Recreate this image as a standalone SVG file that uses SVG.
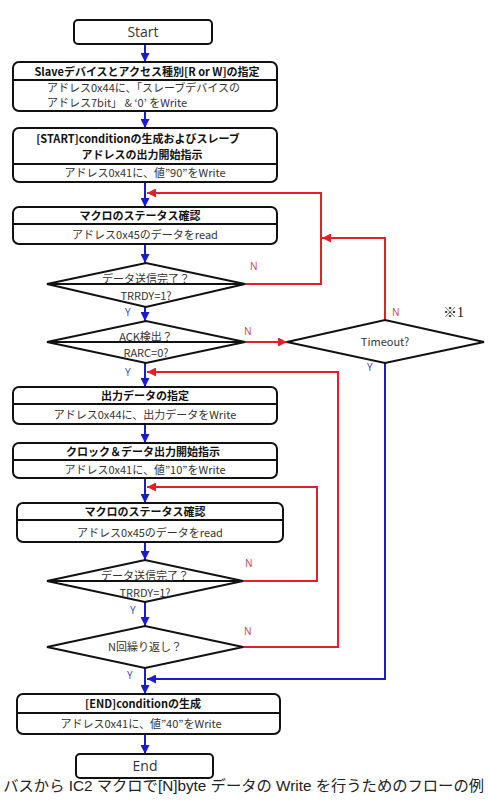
<svg xmlns="http://www.w3.org/2000/svg" width="488" height="806" viewBox="0 0 488 806">
<style>
.box{fill:#fff;stroke:#111;stroke-width:2}
.div{stroke:#111;stroke-width:2}
.dia{fill:#fff;stroke:#111;stroke-width:2}
.t{font-family:"Noto Sans CJK JP","Noto Sans",sans-serif;font-size:11px;font-weight:bold;fill:#111;text-anchor:middle}
.b{font-family:"Noto Sans CJK JP","Noto Sans",sans-serif;font-size:11px;fill:#333;text-anchor:middle}
.bl{font-family:"Noto Sans CJK JP","Noto Sans",sans-serif;font-size:11px;fill:#333}
.term{font-family:"Open Sans","Noto Sans",sans-serif;font-size:14px;fill:#333;text-anchor:middle}
.blue{fill:none;stroke:#1a1ad0;stroke-width:2}
.red{fill:none;stroke:#e3202a;stroke-width:2}
.n{font-family:"Open Sans","Liberation Sans",sans-serif;font-size:10px;fill:#d0405a}
.y{font-family:"Open Sans","Liberation Sans",sans-serif;font-size:10px;fill:#3a3aa0}
</style>
<defs>
<marker id="ab" viewBox="0 0 10 10" refX="10" refY="5" markerWidth="9" markerHeight="9" markerUnits="userSpaceOnUse" orient="auto"><path d="M0,0 L10,5 L0,10 z" fill="#1a1ad0"/></marker>
<marker id="ar" viewBox="0 0 10 10" refX="10" refY="5" markerWidth="9" markerHeight="9" markerUnits="userSpaceOnUse" orient="auto"><path d="M0,0 L10,5 L0,10 z" fill="#e3202a"/></marker>
</defs>
<rect width="488" height="806" fill="#fff"/>

<g id="connectors">
<path class="blue" d="M145,44 V62" marker-end="url(#ab)"/>
<path class="blue" d="M145,111 V128" marker-end="url(#ab)"/>
<path class="blue" d="M145,182 V207" marker-end="url(#ab)"/>
<path class="blue" d="M145,244 V263" marker-end="url(#ab)"/>
<path class="blue" d="M145,307 V321" marker-end="url(#ab)"/>
<path class="blue" d="M145,363 V387" marker-end="url(#ab)"/>
<path class="blue" d="M145,424 V443" marker-end="url(#ab)"/>
<path class="blue" d="M145,478 V503" marker-end="url(#ab)"/>
<path class="blue" d="M145,542 V560" marker-end="url(#ab)"/>
<path class="blue" d="M145,602 V626" marker-end="url(#ab)"/>
<path class="blue" d="M145,668 V694" marker-end="url(#ab)"/>
<path class="blue" d="M145,734 V754" marker-end="url(#ab)"/>
<path class="red" d="M245,284 H321 V193 H147" marker-end="url(#ar)"/>
<path class="red" d="M385,320 V238 H322" marker-end="url(#ar)"/>
<path class="red" d="M245,342 H287" marker-end="url(#ar)"/>
<path class="red" d="M243,647 H338 V372 H147" marker-end="url(#ar)"/>
<path class="red" d="M243,581 H317 V487 H147" marker-end="url(#ar)"/>
<path class="blue" d="M385,363 V679 H147" marker-end="url(#ab)"/>
<text class="n" x="250" y="270">N</text>
<text class="n" x="392" y="316">N</text>
<text class="n" x="244" y="335">N</text>
<text class="n" x="245" y="567">N</text>
<text class="n" x="244" y="635">N</text>
<text class="y" x="125" y="316">Y</text>
<text class="y" x="367" y="371">Y</text>
<text class="y" x="125" y="376">Y</text>
<text class="y" x="130" y="614">Y</text>
<text class="y" x="127" y="679">Y</text>
<text x="443" y="317" font-family="'Liberation Serif','Noto Sans CJK JP',serif" font-size="14" fill="#111">※1</text>
</g>

<g id="start">
<rect class="box" x="74" y="20" width="138" height="24" rx="4"/>
<text class="term" x="143" y="37">Start</text>
</g>

<g id="slave-spec">
<rect class="box" x="13" y="62" width="264" height="49" rx="6"/>
<line class="div" x1="14" y1="80" x2="276" y2="80"/>
<text class="t" x="147" y="76">Slaveデバイスとアクセス種別[R or W]の指定</text>
<text class="bl" x="47" y="92">アドレス0x44に、「スレーブデバイスの</text>
<text class="bl" x="47" y="107">アドレス7bit」 &amp; ‘0’ をWrite</text>
</g>

<g id="start-cond">
<rect class="box" x="13" y="128" width="264" height="54" rx="6"/>
<line class="div" x1="14" y1="164" x2="276" y2="164"/>
<text class="t" x="138" y="143">[START]conditionの生成およびスレーブ</text>
<text class="t" x="142" y="159">アドレスの出力開始指示</text>
<text class="b" x="145" y="177">アドレス0x41に、値”90”をWrite</text>
</g>

<g id="status1">
<rect class="box" x="13" y="207" width="264" height="37" rx="6"/>
<line class="div" x1="14" y1="224" x2="276" y2="224"/>
<text class="t" x="140" y="220">マクロのステータス確認</text>
<text class="b" x="145" y="239">アドレス0x45のデータをread</text>
</g>

<g id="tx-done1">
<polygon class="dia" points="47,284 146,263 245,284 146,307"/>
<line class="div" x1="47" y1="284" x2="245" y2="284"/>
<text class="b" x="146" y="283">データ送信完了？</text>
<text class="b" x="146" y="300">TRRDY=1?</text>
</g>

<g id="ack">
<polygon class="dia" points="47,342 146,321 245,342 146,363"/>
<line class="div" x1="47" y1="342" x2="245" y2="342"/>
<text class="b" x="146" y="341">ACK検出？</text>
<text class="b" x="146" y="357">RARC=0?</text>
</g>

<g id="timeout">
<polygon class="dia" points="287,342 385,320 484,342 385,363"/>
<text class="b" x="385" y="346">Timeout?</text>
</g>

<g id="out-data">
<rect class="box" x="13" y="387" width="264" height="37" rx="6"/>
<line class="div" x1="14" y1="404" x2="276" y2="404"/>
<text class="t" x="145" y="400">出力データの指定</text>
<text class="b" x="145" y="419">アドレス0x44に、出力データをWrite</text>
</g>

<g id="clock">
<rect class="box" x="13" y="443" width="264" height="35" rx="6"/>
<line class="div" x1="14" y1="460" x2="276" y2="460"/>
<text class="t" x="143" y="456">クロック＆データ出力開始指示</text>
<text class="b" x="145" y="474">アドレス0x41に、値”10”をWrite</text>
</g>

<g id="status2">
<rect class="box" x="17" y="503" width="266" height="39" rx="6"/>
<line class="div" x1="18" y1="520" x2="282" y2="520"/>
<text class="t" x="145" y="516">マクロのステータス確認</text>
<text class="b" x="150" y="537">アドレス0x45のデータをread</text>
</g>

<g id="tx-done2">
<polygon class="dia" points="47,581 145,560 243,581 145,602"/>
<line class="div" x1="47" y1="581" x2="243" y2="581"/>
<text class="b" x="145" y="580">データ送信完了？</text>
<text class="b" x="145" y="597">TRRDY=1?</text>
</g>

<g id="repeat">
<polygon class="dia" points="47,647 145,626 243,647 145,668"/>
<text class="b" x="145" y="651">N回繰り返し？</text>
</g>

<g id="end-cond">
<rect class="box" x="17" y="694" width="263" height="40" rx="6"/>
<line class="div" x1="18" y1="713" x2="279" y2="713"/>
<text class="t" x="143" y="708">[END]conditionの生成</text>
<text class="b" x="141" y="728">アドレス0x41に、値”40”をWrite</text>
</g>

<g id="end">
<rect class="box" x="76" y="754" width="137" height="24" rx="4"/>
<text class="term" x="145" y="771">End</text>
</g>

<text x="484" y="791" text-anchor="end" font-family="'Liberation Sans','Noto Sans CJK JP',sans-serif" font-size="15.3" fill="#222">バスから IC2 マクロで[N]byte データの Write を行うためのフローの例</text>
</svg>
